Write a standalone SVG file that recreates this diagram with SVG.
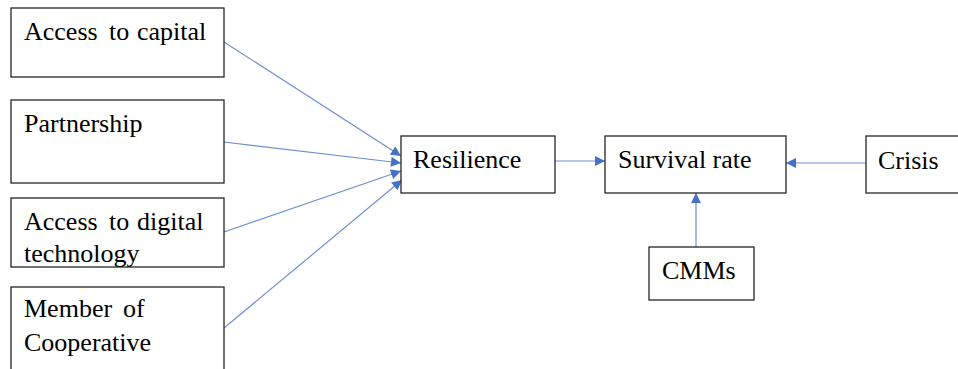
<svg xmlns="http://www.w3.org/2000/svg" width="958" height="369" viewBox="0 0 958 369">
<style>
.box{fill:#fff;stroke:#262626;stroke-width:1.3}
.t{font-family:"Liberation Serif","Times New Roman",serif;font-size:26px;fill:#000}
.c{stroke:#6F8FCF;stroke-width:1.2;fill:none;marker-end:url(#ah)}
</style>
<defs>
<marker id="ah" viewBox="0 0 10 10" refX="10" refY="5" markerWidth="11" markerHeight="10" markerUnits="userSpaceOnUse" orient="auto">
<path d="M0,0 L10,5 L0,10 z" fill="#4472C4"/>
</marker>
</defs>
<rect width="958" height="369" fill="#fff"/>
<g id="connectors">
<line class="c" x1="224" y1="42" x2="401" y2="156"/>
<line class="c" x1="224" y1="142" x2="401" y2="163"/>
<line class="c" x1="224" y1="232" x2="401" y2="171"/>
<line class="c" x1="224" y1="328" x2="402" y2="180"/>
<line class="c" x1="555" y1="161" x2="605" y2="161"/>
<line class="c" x1="866" y1="163" x2="786" y2="163"/>
<line class="c" x1="696" y1="247" x2="696" y2="193"/>
</g>
<g id="access-capital">
<rect class="box" x="11" y="8" width="213" height="69"/>
<text class="t" y="40"><tspan x="24">Access</tspan><tspan x="109">to</tspan><tspan x="137">capital</tspan></text>
</g>
<g id="partnership">
<rect class="box" x="11" y="100" width="213" height="83"/>
<text class="t" x="24" y="132">Partnership</text>
</g>
<g id="access-digital">
<rect class="box" x="11" y="198" width="213" height="69"/>
<text class="t" y="230"><tspan x="24">Access</tspan><tspan x="109">to</tspan><tspan x="137">digital</tspan></text>
<text class="t" x="24" y="262">technology</text>
</g>
<g id="member-cooperative">
<rect class="box" x="11" y="287" width="213" height="100"/>
<text class="t" y="317"><tspan x="24">Member</tspan><tspan x="123">of</tspan></text>
<text class="t" x="24" y="351">Cooperative</text>
</g>
<g id="resilience">
<rect class="box" x="401" y="136" width="154" height="57"/>
<text class="t" x="413" y="168">Resilience</text>
</g>
<g id="survival-rate">
<rect class="box" x="605" y="136" width="181" height="57"/>
<text class="t" x="618" y="168">Survival rate</text>
</g>
<g id="crisis">
<rect class="box" x="866" y="136" width="120" height="57"/>
<text class="t" x="878" y="169">Crisis</text>
</g>
<g id="cmms">
<rect class="box" x="649" y="247" width="105" height="53"/>
<text class="t" x="662" y="279">CMMs</text>
</g>
</svg>
